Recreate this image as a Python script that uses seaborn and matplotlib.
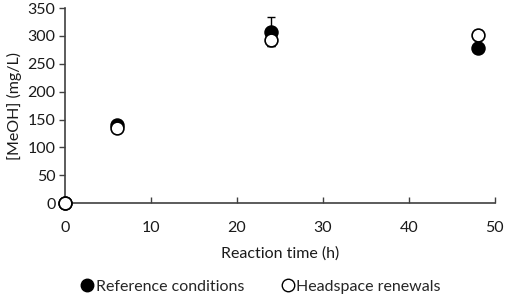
import matplotlib
matplotlib.use("Agg")
import matplotlib.pyplot as plt
import seaborn as sns
import pandas as pd
from matplotlib.lines import Line2D

time_h = [0, 6, 24, 48]
ref_vals = [0, 140, 307, 278]
ref_err = [0, 3, 26, 4]
head_vals = [0, 134, 293, 302]
head_err = [0, 3, 12, 9]
series_names = ["Reference conditions", "Headspace renewals"]

sns.set_theme(style="white")
plt.rcParams['font.family'] = ['Lato', 'DejaVu Sans']

fig = plt.figure(figsize=(5.05, 2.97), dpi=100)
ax = fig.add_axes([0.129, 0.316, 0.851, 0.657])

df = pd.DataFrame({
    "t": time_h * 2,
    "v": ref_vals + head_vals,
    "e": ref_err + head_err,
    "s": [series_names[0]] * 4 + [series_names[1]] * 4,
})

axis_col = "#404040"
txt_col = "#1a1a1a"
fs = 11.5
for name, face, z in [(series_names[0], "black", 3), (series_names[1], "white", 4)]:
    d = df[df.s == name]
    ax.errorbar(d.t, d.v, yerr=d.e, fmt="none", ecolor="black", elinewidth=1,
                capsize=3, capthick=1, zorder=z - 0.5, clip_on=False)
    sns.scatterplot(data=d, x="t", y="v", ax=ax, s=85, color=face,
                    edgecolor="black", linewidth=1.2, zorder=z, clip_on=False,
                    legend=False)

ax.set_xlim(0, 50)
ax.set_ylim(0, 350)
ax.set_xticks(range(0, 51, 10))
ax.set_yticks(range(0, 351, 50))
for sp in ["top", "right"]:
    ax.spines[sp].set_visible(False)
for sp in ["left", "bottom"]:
    ax.spines[sp].set_color(axis_col)
    ax.spines[sp].set_linewidth(1.2)
ax.tick_params(axis="y", direction="out", length=4, width=1, color=axis_col,
               labelsize=fs, pad=3, left=True, labelcolor=txt_col)
ax.tick_params(axis="x", direction="in", length=4, width=1, color=axis_col,
               labelsize=fs, pad=13, bottom=True, labelcolor=txt_col)
ax.set_xlabel("Reaction time (h)", fontsize=fs, color=txt_col, labelpad=8)
ax.set_ylabel("[MeOH] (mg/L)", fontsize=fs, color=txt_col, labelpad=4)
ax.grid(False)

handles = [
    Line2D([], [], marker="o", linestyle="none", markerfacecolor="black",
           markeredgecolor="black", markersize=9),
    Line2D([], [], marker="o", linestyle="none", markerfacecolor="white",
           markeredgecolor="black", markersize=9),
]
fig.legend(handles, series_names, loc="center", bbox_to_anchor=(0.515, 0.035),
           ncol=2, frameon=False, fontsize=fs, handletextpad=0.05,
           columnspacing=2.2, handlelength=1.0)

fig.savefig("out.png", dpi=100)
